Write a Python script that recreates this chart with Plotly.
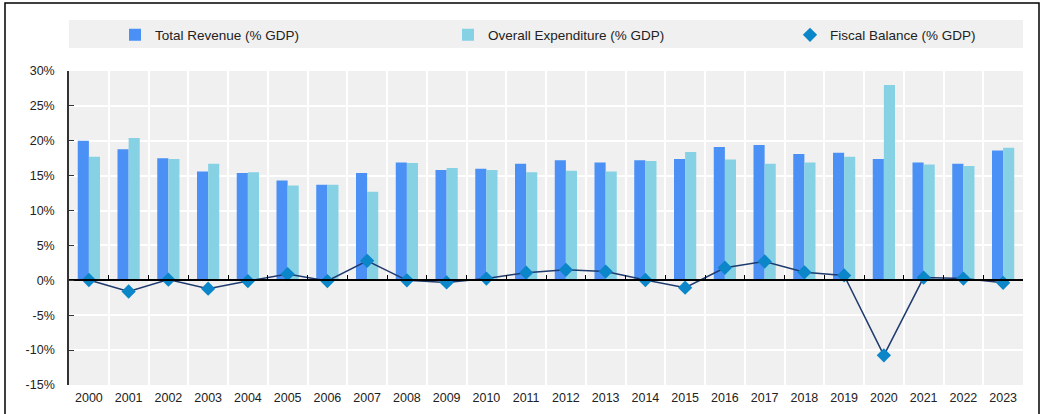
import plotly.graph_objects as go

years = ["2000", "2001", "2002", "2003", "2004", "2005", "2006", "2007", "2008", "2009", "2010", "2011",
         "2012", "2013", "2014", "2015", "2016", "2017", "2018", "2019", "2020", "2021", "2022", "2023"]
revenue = [20.0, 18.8, 17.5, 15.6, 15.4, 14.3, 13.7, 15.4, 16.9, 15.8, 16.0, 16.7,
           17.2, 16.9, 17.2, 17.4, 19.1, 19.4, 18.1, 18.3, 17.4, 16.9, 16.7, 18.6]
expenditure = [17.7, 20.4, 17.4, 16.7, 15.5, 13.6, 13.7, 12.7, 16.8, 16.1, 15.8, 15.5,
               15.7, 15.6, 17.1, 18.4, 17.3, 16.7, 16.9, 17.7, 28.0, 16.6, 16.4, 19.0]
balance = [0.05, -1.6, 0.1, -1.2, -0.1, 0.9, -0.1, 2.8, 0.0, -0.3, 0.25, 1.1,
           1.5, 1.25, 0.05, -1.05, 1.8, 2.7, 1.15, 0.7, -10.75, 0.4, 0.25, -0.35]
ytick_vals = [-15, -10, -5, 0, 5, 10, 15, 20, 25, 30]
ytick_text = [f"{v}%" for v in ytick_vals]

FONT = "Liberation Sans, Arial, sans-serif"
TXT = "#222222"
BG = "#f0f0f0"

fig = go.Figure()
fig.add_trace(go.Bar(x=years, y=revenue, name="Total Revenue (% GDP)",
                     marker=dict(color="#4a90f5", line_width=0), legend="legend", showlegend=True))
fig.add_trace(go.Bar(x=years, y=expenditure, name="Overall Expenditure (% GDP)",
                     marker=dict(color="#86d1e4", line_width=0), legend="legend2", showlegend=True))
fig.add_trace(go.Scatter(x=years, y=balance, name="Fiscal Balance (% GDP)", mode="lines",
                         xaxis="x2", line=dict(color="#1f3a6e", width=1.5), showlegend=False))
fig.add_trace(go.Scatter(x=years, y=balance, name="Fiscal Balance (% GDP)", mode="markers",
                         xaxis="x2",
                         marker=dict(symbol="diamond", size=11, color="#0a86c9", line_width=0),
                         legend="legend3", showlegend=True))

n = len(years)
W, H = 1041, 414
ml, mr, mt, mb = 69, 18, 71, 29
pw, ph = W - ml - mr, H - mt - mb

def px_x(p):
    return (p - ml) / pw

def px_y(p):
    return (H - mb - p) / ph

leg_common = dict(orientation="h", xanchor="left", yanchor="middle", y=px_y(35),
                  bgcolor="rgba(0,0,0,0)", font=dict(family=FONT, size=13.5, color=TXT),
                  itemwidth=30, visible=True)

fig.update_layout(
    width=W, height=H,
    showlegend=True,
    margin=dict(l=ml, r=mr, t=mt, b=mb, pad=0, autoexpand=False),
    paper_bgcolor="white", plot_bgcolor=BG,
    barmode="group", bargap=0.44, bargroupgap=0,
    font=dict(family=FONT, size=12.5, color=TXT),
    legend=dict(x=px_x(115), **leg_common),
    legend2=dict(x=px_x(448), **leg_common),
    legend3=dict(x=px_x(790), **leg_common),
    xaxis=dict(type="category", range=[-0.5, n - 0.5], tickson="boundaries", automargin=False,
               showgrid=True, gridcolor="white", gridwidth=1.5,
               ticks="", showline=False, zeroline=False, tickangle=0,
               tickfont=dict(family=FONT, size=12.5, color=TXT), ticklabelstandoff=3),
    xaxis2=dict(type="category", overlaying="x", matches="x", anchor="free", position=1/3,
                tickson="boundaries", ticks="inside", ticklen=5, tickwidth=1.2, tickcolor="black",
                showticklabels=False, showgrid=False, zeroline=False, automargin=False,
                showline=True, linecolor="black", linewidth=1.5),
    yaxis=dict(range=[-15, 30], tickvals=ytick_vals, ticktext=ytick_text, automargin=False,
               showgrid=True, gridcolor="white", gridwidth=1.5, zeroline=False,
               showline=True, linecolor="#333333", linewidth=1.5,
               ticks="inside", ticklen=5, tickcolor="#333333",
               tickfont=dict(family=FONT, size=12.5, color=TXT), ticklabelstandoff=10),
    shapes=[
        dict(type="rect", xref="paper", yref="paper", x0=0, x1=1,
             y0=px_y(48), y1=px_y(20), fillcolor=BG, line_width=0, layer="below"),
        dict(type="rect", xref="paper", yref="paper", x0=px_x(5), x1=px_x(1039),
             y0=px_y(430), y1=px_y(3), fillcolor="rgba(0,0,0,0)",
             line=dict(color="black", width=1.5)),
    ],
)

fig.write_html("out.html", config={"displayModeBar": False},
               post_script="document.body.style.margin='0';document.body.style.overflow='hidden';")
